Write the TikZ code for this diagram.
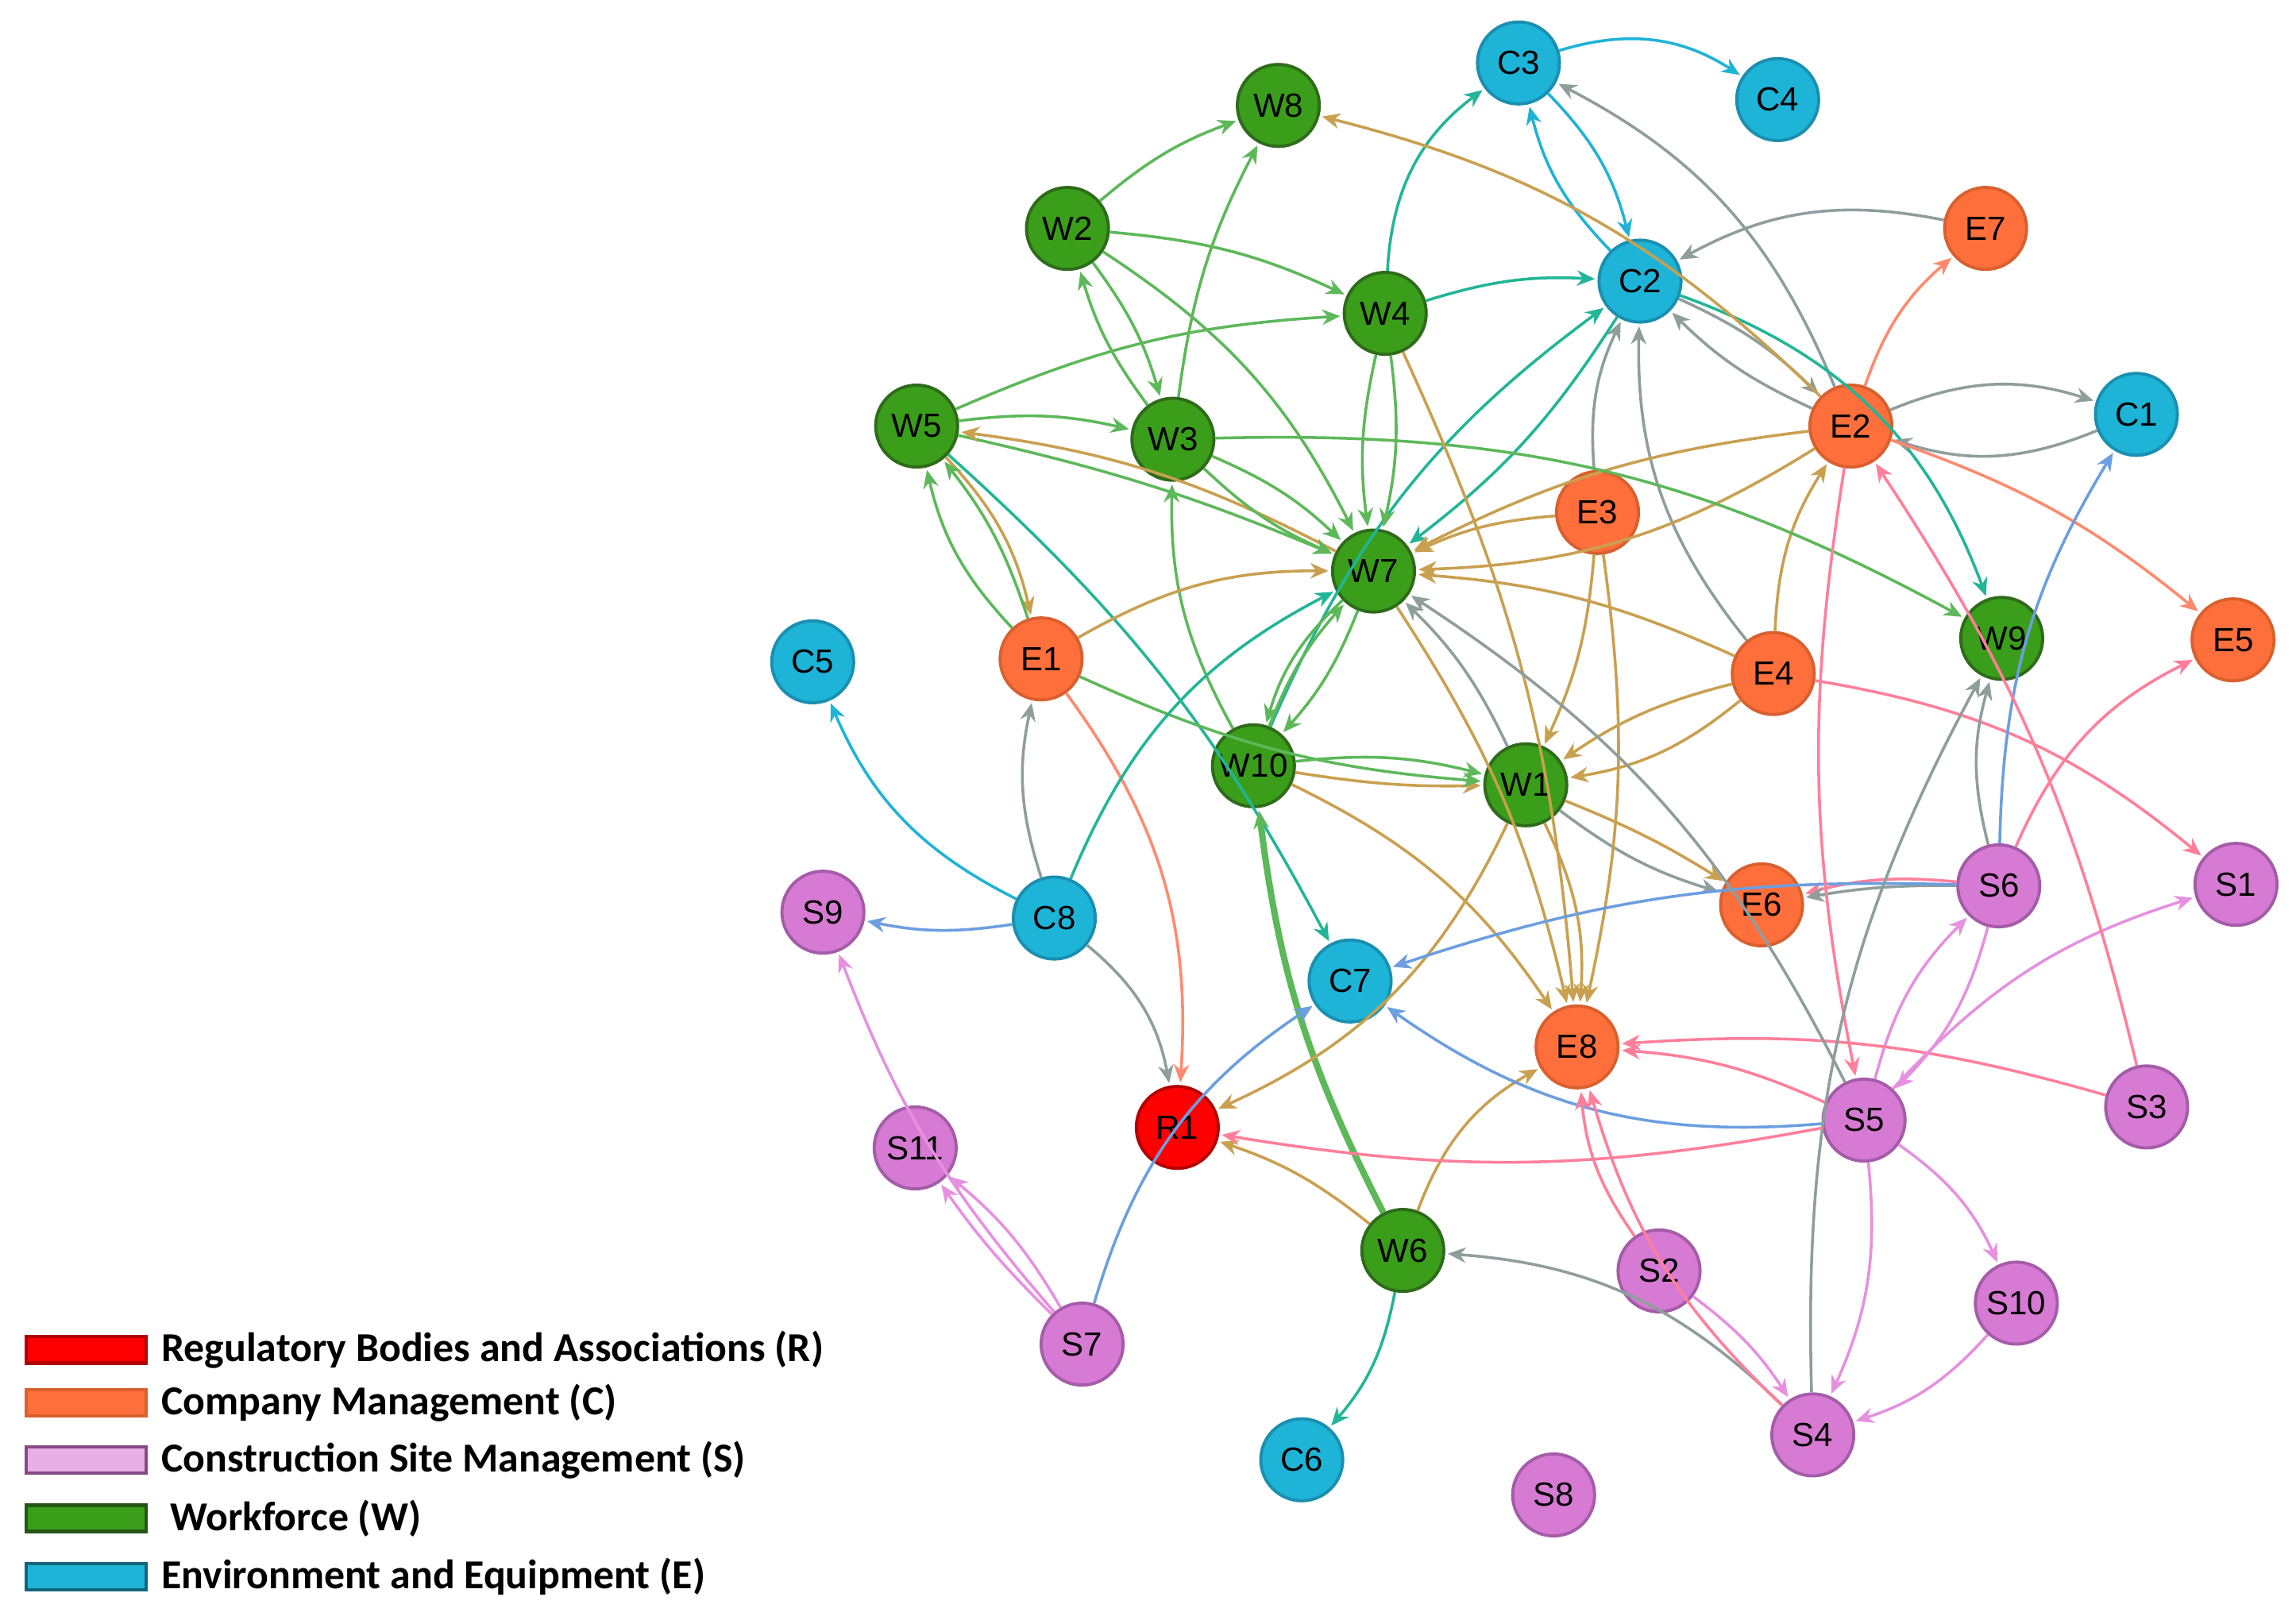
\documentclass[tikz,border=0pt]{standalone}
\usepackage{fontspec}
\setmainfont{Liberation Sans}
\newfontfamily\legfont{Carlito}
\usetikzlibrary{arrows.meta}
\definecolor{gfill}{HTML}{3A9E1A}\definecolor{gline}{HTML}{2E6B1A}
\definecolor{cfill}{HTML}{1EB4D8}\definecolor{cline}{HTML}{1A8FB0}
\definecolor{ofill}{HTML}{FF6F3C}\definecolor{oline}{HTML}{D9602E}
\definecolor{pfill}{HTML}{D77AD3}\definecolor{pline}{HTML}{A45CA8}
\definecolor{rfill}{HTML}{FF0000}
\definecolor{eg}{HTML}{5DB85A}\definecolor{eb}{HTML}{C9A050}
\definecolor{et}{HTML}{22B597}\definecolor{ec}{HTML}{1FB3D6}
\definecolor{ey}{HTML}{8E9E9C}\definecolor{es}{HTML}{FF8A6E}
\definecolor{ep}{HTML}{FF7F9A}\definecolor{eu}{HTML}{E690E0}
\definecolor{ebl}{HTML}{6C9EE0}
\begin{document}
\begin{tikzpicture}[x=0.02cm,y=-0.02cm,
 nd/.style={circle,minimum size=1.12cm,inner sep=0pt,line width=1.2pt,font=\fontsize{13}{13}\selectfont},
 G/.style={nd,fill=gfill,draw=gline},
 C/.style={nd,fill=cfill,draw=cline},
 O/.style={nd,fill=ofill,draw=oline},
 P/.style={nd,fill=pfill,draw=pline},
 R/.style={nd,fill=rfill,draw=red!70!black},
 e/.style={-{Stealth[length=7pt,width=6pt]},line width=1.1pt,shorten >=1pt},
 leg/.style={font=\legfont\bfseries\fontsize{16}{16}\selectfont,anchor=west}]
\useasboundingbox (0,0) rectangle (1568,1106);
% nodes
\node[C] (C3) at (1037,43) {C3};
\node[C] (C4) at (1214,68) {C4};
\node[G] (W8) at (873,72) {W8};
\node[O] (E7) at (1356,156) {E7};
\node[G] (W2) at (729,156) {W2};
\node[C] (C2) at (1120,192) {C2};
\node[G] (W4) at (946,214) {W4};
\node[G] (W5) at (626,291) {W5};
\node[G] (W3) at (801,300) {W3};
\node[O] (E2) at (1264,291) {E2};
\node[C] (C1) at (1459,283) {C1};
\node[O] (E3) at (1091,350) {E3};
\node[G] (W7) at (938,390) {W7};
\node[C] (C5) at (555,452) {C5};
\node[O] (E1) at (711,450) {E1};
\node[G] (W9) at (1367,436) {W9};
\node[O] (E5) at (1525,437) {E5};
\node[O] (E4) at (1211,460) {E4};
\node[G] (W10) at (856,523) {W10};
\node[G] (W1) at (1042,536) {W1};
\node[P] (S6) at (1365,605) {S6};
\node[P] (S1) at (1527,604) {S1};
\node[P] (S9) at (562,623) {S9};
\node[C] (C8) at (720,627) {C8};
\node[O] (E6) at (1203,618) {E6};
\node[C] (C7) at (922,670) {C7};
\node[O] (E8) at (1077,715) {E8};
\node[P] (S5) at (1273,765) {S5};
\node[P] (S3) at (1466,756) {S3};
\node[R] (R1) at (804,770) {R1};
\node[P] (S11) at (625,784) {S11};
\node[G] (W6) at (958,854) {W6};
\node[P] (S2) at (1133,868) {S2};
\node[P] (S10) at (1377,890) {S10};
\node[P] (S7) at (739,918) {S7};
\node[P] (S4) at (1238,980) {S4};
\node[C] (C6) at (889,997) {C6};
\node[P] (S8) at (1061,1021) {S8};
% edges
\draw[e,ec] (C3) to[bend left=25] (C4);
\draw[e,ec] (C3) to[bend left=15] (C2);
\draw[e,ec] (C2) to[bend left=15] (C3);
\draw[e,ey] (E2) to[bend right=20] (C3);
\draw[e,et] (W4) to[bend left=25] (C3);
\draw[e,et] (W4) to[bend left=10] (C2);
\draw[e,ey] (E2) to[bend left=10] (C2);
\draw[e,ey] (C2) to[bend left=10] (E2);
\draw[e,ey] (E7) to[bend right=20] (C2);
\draw[e,ey] (E4) to[bend left=20] (C2);
\draw[e,ey] (E3) to[bend left=15] (C2);
\draw[e,et] (W10) to[bend left=15] (C2);
\draw[e,et] (C2) to[bend left=10] (W7);
\draw[e,et] (C2) to[bend left=25] (W9);
\draw[e,ey] (E2) to[bend left=20] (C1);
\draw[e,ey] (C1) to[bend left=20] (E2);
\draw[e,es] (E2) to[bend left=15] (E7);
\draw[e,es] (E2) to[bend left=10] (E5);
\draw[e,eb] (E2) to[bend right=10] (W7);
\draw[e,eb] (E2) to[bend right=15] (W8);
\draw[e,eb] (E2) to[bend left=15] (W7);
\draw[e,eb] (E3) to[bend right=10] (W7);
\draw[e,eb] (E4) to[bend right=10] (W7);
\draw[e,eb] (E4) to[bend left=15] (E2);
\draw[e,eb] (E4) to[bend left=15] (W1);
\draw[e,eb] (E4) to[bend right=10] (W1);
\draw[e,ep] (E4) to[bend left=15] (S1);
\draw[e,eg] (W3) to[bend left=15] (W9);
\draw[e,eg] (W3) to[bend left=10] (W8);
\draw[e,eg] (W2) to[bend left=10] (W8);
\draw[e,eg] (W2) to[bend left=10] (W4);
\draw[e,eg] (W2) to[bend left=10] (W3);
\draw[e,eg] (W3) to[bend left=10] (W2);
\draw[e,eg] (W2) to[bend left=15] (W7);
\draw[e,eg] (W5) to[bend left=10] (W4);
\draw[e,eg] (W5) to[bend left=10] (W3);
\draw[e,eg] (W5) to[bend left=5] (W7);
\draw[e,eb] (W7) to[bend right=10] (W5);
\draw[e,eb] (W5) to[bend left=15] (E1);
\draw[e,eg] (E1) to[bend left=15] (W5);
\draw[e,eg] (E1) to[bend right=10] (W5);
\draw[e,et] (W5) to[bend left=10] (C7);
\draw[e,eg] (W3) to[bend right=10] (W7);
\draw[e,eg] (W3) to[bend left=10] (W7);
\draw[e,eg] (W4) to[bend left=10] (W7);
\draw[e,eg] (W4) to[bend right=10] (W7);
\draw[e,eb] (W4) to[bend left=10] (E8);
\draw[e,eg] (W7) to[bend left=10] (W10);
\draw[e,eg] (W10) to[bend left=10] (W7);
\draw[e,eg] (W7) to[bend right=15] (W10);
\draw[e,eg] (W10) to[bend left=15] (W3);
\draw[e,eg] (W10) to[bend left=10] (W1);
\draw[e,eb] (W10) to[bend right=5] (W1);
\draw[e,eb] (W10) to[bend left=15] (E8);
\draw[e,eg] (E1) to[bend right=10] (W1);
\draw[e,eb] (E1) to[bend left=15] (W7);
\draw[e,es] (E1) to[bend left=20] (R1);
\draw[e,ey] (C8) to[bend left=15] (E1);
\draw[e,ec] (C8) to[bend left=20] (C5);
\draw[e,ebl] (C8) to[bend left=10] (S9);
\draw[e,ey] (C8) to[bend left=20] (R1);
\draw[e,et] (C8) to[bend left=20] (W7);
\draw[e,eg,line width=2.5pt] (W6) to[bend left=10] (W10);
\draw[e,eb] (W6) to[bend left=20] (E8);
\draw[e,eb] (W6) to[bend right=10] (R1);
\draw[e,et] (W6) to[bend left=15] (C6);
\draw[e,ey] (S4) to[bend right=20] (W6);
\draw[e,ebl] (S7) to[bend left=20] (C7);
\draw[e,eu] (S7) to[bend left=10] (S9);
\draw[e,eu] (S7) to[bend right=10] (S11);
\draw[e,eu] (S7) to[bend left=5] (S11);
\draw[e,eb] (W1) to[bend left=20] (R1);
\draw[e,ey] (W1) to[bend right=10] (E6);
\draw[e,eb] (W1) to[bend left=5] (E6);
\draw[e,eb] (W1) to[bend left=15] (E8);
\draw[e,ey] (W1) to[bend right=10] (W7);
\draw[e,eb] (E3) to[bend left=10] (E8);
\draw[e,eb] (E3) to[bend left=10] (W1);
\draw[e,eb] (W7) to[bend left=10] (E8);
\draw[e,ep] (S6) to[bend right=10] (E6);
\draw[e,ey] (S6) to[bend right=5] (E6);
\draw[e,ep] (S6) to[bend left=20] (E5);
\draw[e,eu] (S6) to[bend left=15] (S5);
\draw[e,eu] (S5) to[bend left=15] (S6);
\draw[e,ebl] (S6) to[bend right=10] (C7);
\draw[e,ey] (S6) to[bend left=15] (W9);
\draw[e,ebl] (S6) to[bend left=15] (C1);
\draw[e,ep] (S5) to[bend right=10] (E8);
\draw[e,ep] (S3) to[bend right=10] (E8);
\draw[e,ey] (S5) to[bend right=15] (W7);
\draw[e,ebl] (S5) to[bend left=20] (C7);
\draw[e,eu] (S5) to[bend left=15] (S1);
\draw[e,eu] (S5) to[bend left=15] (S4);
\draw[e,eu] (S5) to[bend left=15] (S10);
\draw[e,ep] (S3) to[bend right=10] (E2);
\draw[e,ep] (E2) to[bend right=10] (S5);
\draw[e,eu] (S10) to[bend left=15] (S4);
\draw[e,eu] (S2) to[bend left=10] (S4);
\draw[e,ep] (S2) to[bend left=15] (E8);
\draw[e,ep] (S4) to[bend left=15] (E8);
\draw[e,ey] (S4) to[bend left=15] (W9);
\draw[e,ep] (S5) to[bend left=10] (R1);
% legend
\draw[line width=1.3pt,draw=red!70!black,fill=rfill] (18,913) rectangle (100,931);
\draw[line width=1.3pt,draw=oline,fill=ofill] (18,949) rectangle (100,967);
\draw[line width=1.3pt,draw=pline!80!black,fill=pfill!60!white] (18,988) rectangle (100,1006);
\draw[line width=1.3pt,draw=gline!80!black,fill=gfill] (18,1028) rectangle (100,1046);
\draw[line width=1.3pt,draw=cline!70!black,fill=cfill] (18,1068) rectangle (100,1086);
\node[leg] (L1) at (104,922) {Regulatory Bodies and Associations (R)};
\node[leg] (L2) at (104,958) {Company Management (C)};
\node[leg] (L3) at (104,997) {Construction Site Management (S)};
\node[leg] (L4) at (110,1037) {Workforce (W)};
\node[leg] (L5) at (104,1077) {Environment and Equipment (E)};
\end{tikzpicture}
\end{document}
